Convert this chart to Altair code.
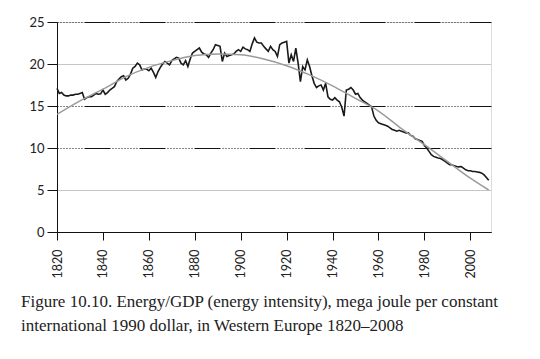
import altair as alt
import pandas as pd

# ---- data ----
years = list(range(1820, 2009))
intensity = [
    17.1, 16.5, 16.6, 16.3, 16.2, 16.2, 16.3, 16.3, 16.4, 16.4,   # 1820-1829
    16.5, 16.6, 15.8, 16.0, 16.1, 16.1, 16.3, 16.5, 16.4, 16.45,  # 1830-1839
    16.9, 16.4, 16.6, 16.9, 17.1, 17.3, 17.9, 18.2, 18.5, 18.6,   # 1840-1849
    18.1, 18.3, 18.8, 19.5, 19.7, 20.1, 19.9, 19.3, 19.4, 19.4,   # 1850-1859
    19.2, 19.5, 19.0, 18.4, 19.1, 19.6, 20.0, 20.3, 20.1, 19.9,   # 1860-1869
    20.4, 20.6, 20.8, 20.7, 20.1, 19.9, 20.4, 19.7, 20.6, 21.3,   # 1870-1879
    21.5, 21.7, 21.9, 21.4, 21.2, 21.1, 20.8, 21.3, 21.7, 22.3,   # 1880-1889
    22.2, 22.1, 20.3, 21.3, 20.9, 21.0, 21.1, 21.2, 21.5, 21.7,   # 1890-1899
    21.5, 22.0, 21.8, 21.7, 21.5, 22.4, 23.1, 22.6, 22.5, 22.5,   # 1900-1909
    22.1, 21.8, 21.5, 22.1, 21.7, 21.5, 20.9, 22.3, 22.5, 22.6,   # 1910-1919
    22.7, 20.1, 21.1, 20.3, 21.9, 20.1, 17.9, 19.7, 19.3, 20.5,   # 1920-1929
    19.7, 18.6, 17.7, 17.2, 17.4, 17.5, 16.9, 17.7, 16.1, 15.8,   # 1930-1939
    15.7, 16.0, 15.7, 15.5, 14.85, 13.8, 16.9, 17.0, 17.2, 16.9,  # 1940-1949
    16.4, 16.5, 16.0, 15.7, 15.5, 15.3, 15.1, 14.9, 13.8, 13.3,   # 1950-1959
    13.0, 12.9, 12.8, 12.7, 12.6, 12.4, 12.2, 12.1, 12.0, 12.1,   # 1960-1969
    12.0, 11.9, 11.8, 11.8, 11.5, 11.4, 11.1, 11.0, 10.9, 10.8,   # 1970-1979
    10.3, 10.0, 9.6, 9.2, 9.0, 8.9, 8.8, 8.75, 8.6, 8.4,          # 1980-1989
    8.2, 8.0, 8.0, 7.9, 7.8, 7.75, 7.8, 7.6, 7.4, 7.3,            # 1990-1999
    7.3, 7.2, 7.2, 7.15, 7.1, 7.0, 6.8, 6.5, 6.15,                # 2000-2008
]

trend_years = [1820, 1830, 1840, 1850, 1860, 1870, 1880, 1890, 1900, 1910,
               1920, 1930, 1940, 1950, 1960, 1970, 1980, 1990, 2000, 2008]
trend_values = [14.0, 15.6, 17.0, 18.5, 19.6, 20.4, 21.0, 21.2, 21.1, 20.6,
                19.8, 18.7, 17.4, 15.9, 14.4, 12.3, 10.4, 8.4, 6.4, 5.0]

x_ticks = [1820, 1830, 1840, 1850, 1860, 1870, 1880, 1890, 1900, 1910, 1920,
           1930, 1940, 1950, 1960, 1970, 1980, 1990, 2000, 2009]
y_ticks = [0, 5, 10, 15, 20, 25]
caption = [
    "Figure 10.10. Energy/GDP (energy intensity), mega joule per constant",
    "international 1990 dollar, in Western Europe 1820\u20132008",
]

df = pd.DataFrame({"year": years, "value": intensity})
tdf = pd.DataFrame({"year": trend_years, "value": trend_values})

W, H = 434, 210
AX_FONT = "Lato"

x_scale = alt.Scale(domain=[1820, 2009], nice=False, zero=False)
y_scale = alt.Scale(domain=[0, 25], nice=False)

x_axis = alt.Axis(
    title=None, values=x_ticks, labelAngle=-90,
    labelExpr="datum.value % 20 == 0 ? '' + datum.value : ''",
    tickSize=8, tickColor="#111", domainColor="#111", labelColor="#222",
    labelFont=AX_FONT, labelFontSize=12.5, labelPadding=9, grid=False,
    labelAlign="right", labelBaseline="middle",
)
solid_dash = [1, 2, 1, 2, 1, 2, 1, 2, 1, 2, 1, 2, 1, 2, 1, 2, 1, 2, 26, 2]
y_axis = alt.Axis(
    title=None, values=y_ticks, tickSize=10, tickColor="#111",
    domainColor="#111", labelColor="#222", labelFont=AX_FONT,
    labelFontSize=13, labelPadding=3, grid=True,
    gridColor={"condition": {"test": "datum.value == 20 || datum.value == 5",
                             "value": "#8a8a8a"}, "value": "#111"},
    gridDash={"condition": {"test": "datum.value == 20 || datum.value == 5",
                            "value": [1, 1]}, "value": solid_dash},
    gridWidth=1,
)

base_line = alt.Chart(df).mark_line(color="#1a1a1a", strokeWidth=1.6).encode(
    x=alt.X("year:Q", scale=x_scale, axis=x_axis),
    y=alt.Y("value:Q", scale=y_scale, axis=y_axis),
)

trend = alt.Chart(tdf).mark_line(color="#9a9a9a", strokeWidth=1.5,
                                 interpolate="monotone").encode(
    x=alt.X("year:Q", scale=x_scale),
    y=alt.Y("value:Q", scale=y_scale),
)

cap = alt.Chart(pd.DataFrame({"t": [0]})).mark_text(
    align="left", baseline="alphabetic", font="Liberation Serif",
    fontSize=17, color="#222", lineHeight=24,
).encode(
    x=alt.value(-36), y=alt.value(285), text=alt.value(caption),
)

chart = alt.layer(base_line, trend, cap).properties(
    width=W, height=H,
    autosize=alt.AutoSizeParams(type="none"),
    padding={"left": 49, "top": 14, "right": 41, "bottom": 119},
).configure_view(stroke=None).configure(background="white")

chart.save("out.html", embed_options={"renderer": "svg", "actions": False})
